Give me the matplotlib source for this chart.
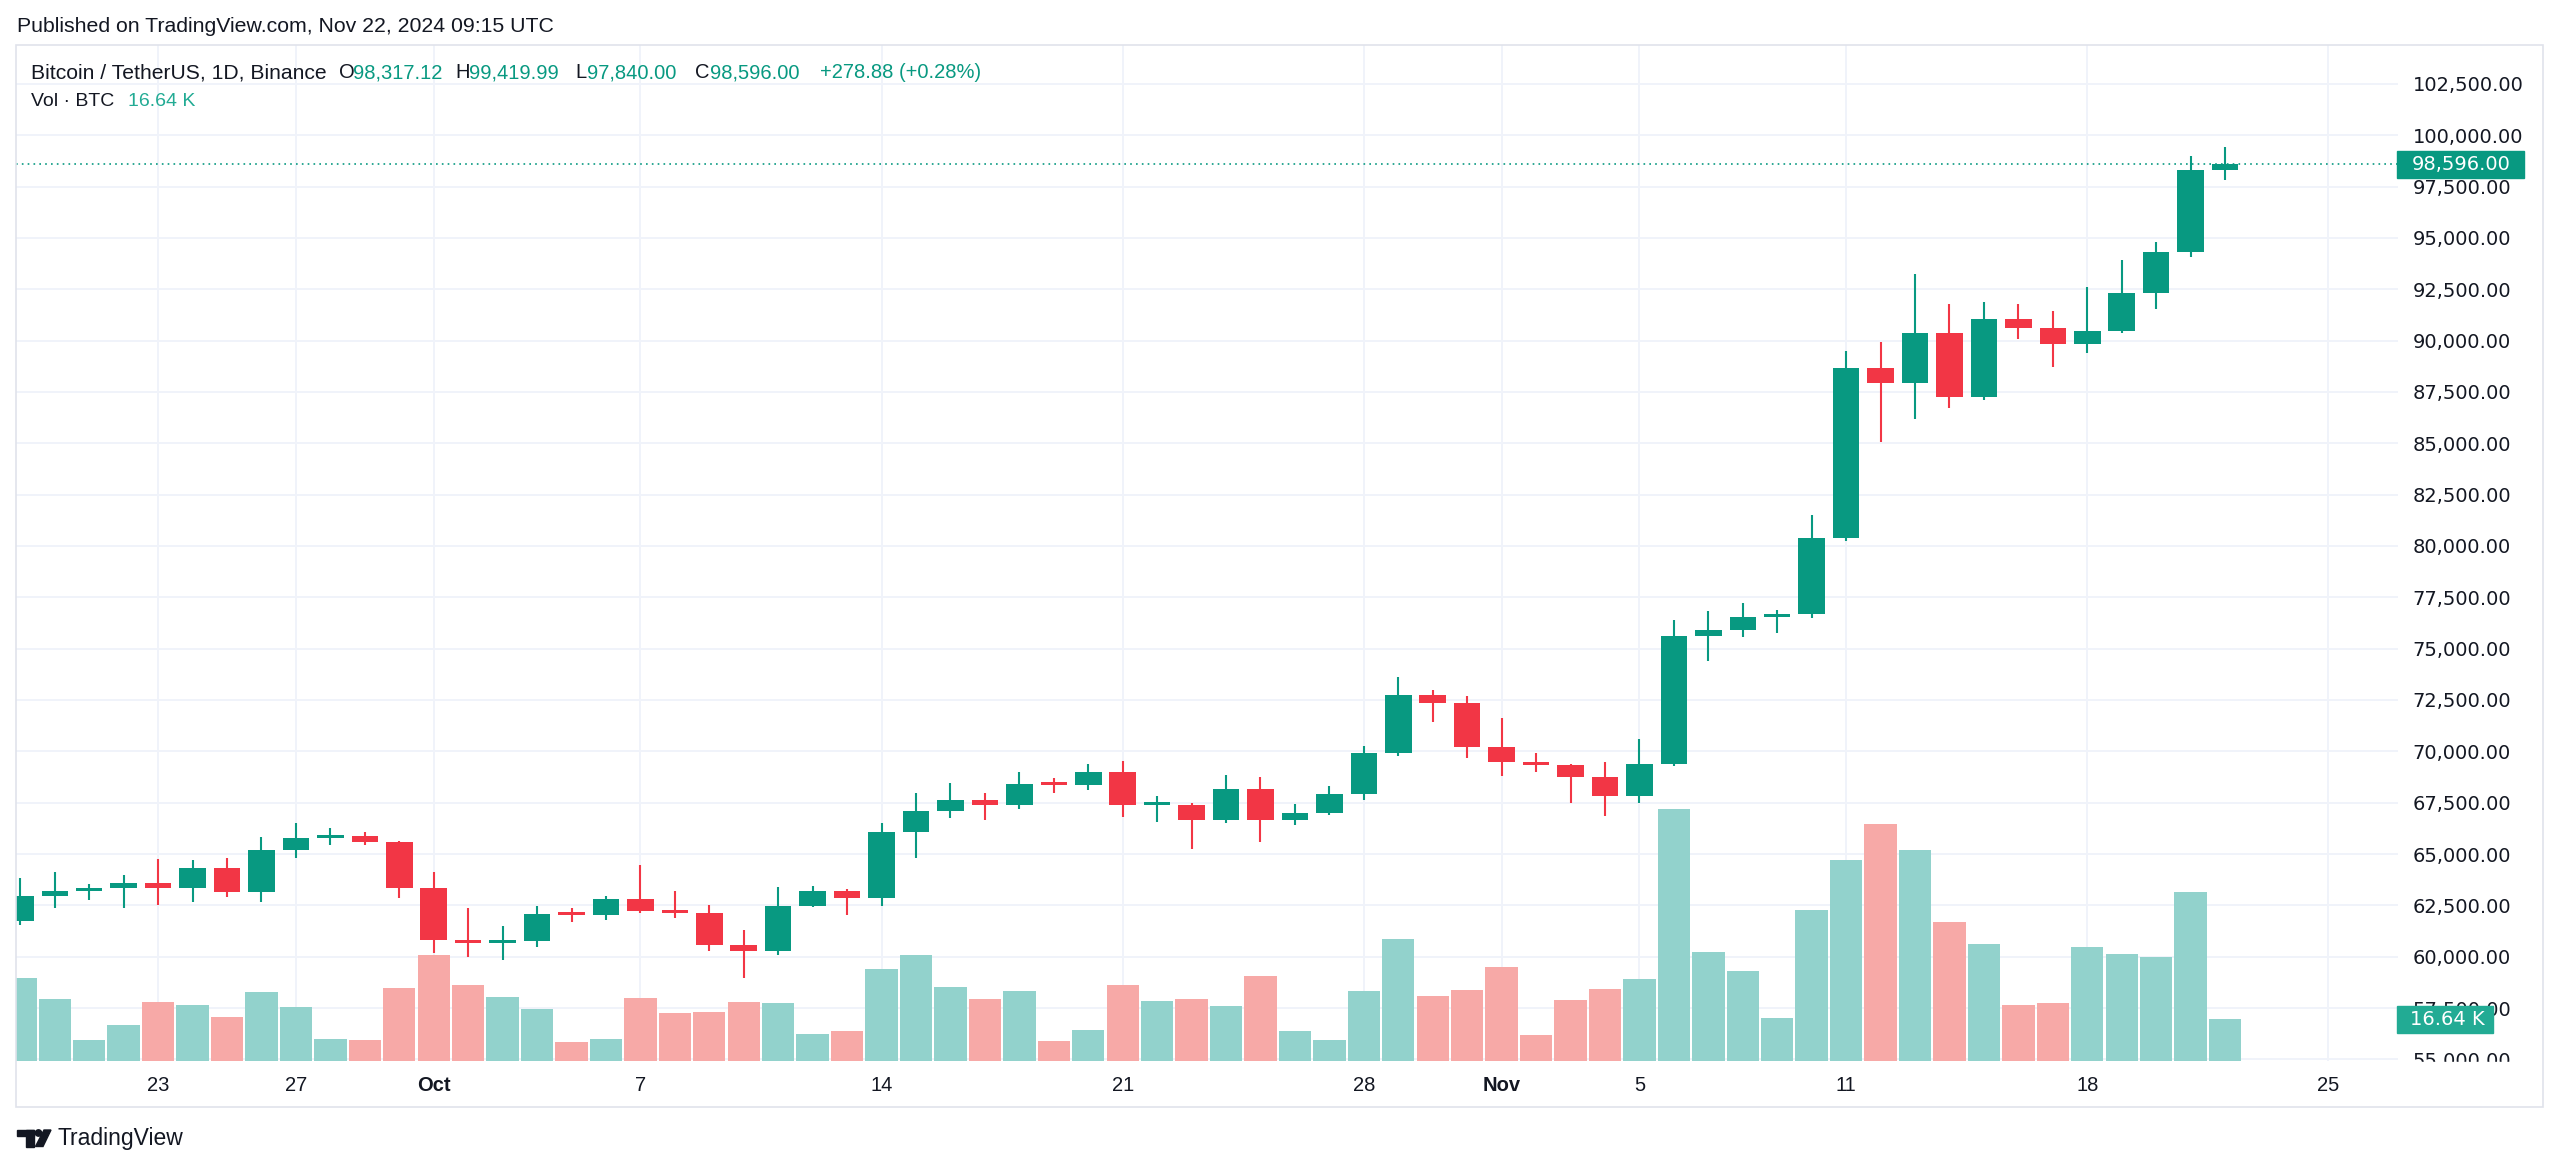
import numpy as np
import pandas as pd
import matplotlib
matplotlib.use('Agg')
import matplotlib.pyplot as plt
from matplotlib.patches import Rectangle, Circle, Polygon
from matplotlib.transforms import Affine2D, blended_transform_factory

# BTCUSDT diario, Binance (19 sep - 22 nov 2024)
dates = pd.date_range('2024-09-19', '2024-11-22', freq='D')

opens = [61760, 62940, 63190, 63350, 63580, 63330, 64300, 63140, 65180, 65770,
         65870, 65600, 63330, 60800, 60650, 60750, 62110, 62040, 62810, 62220,
         62130, 60590, 60280, 62450, 63190, 62850, 66080, 67070, 67610, 67400,
         68430, 68360, 69010, 67370, 67390, 66650, 68170, 66640, 67020, 67940,
         69910, 72720, 72340, 70220, 69500, 69340, 68760, 67810, 69360, 75640,
         75900, 76540, 76680, 80370, 88650, 87950, 90380, 87250, 91050, 90590,
         89850, 90460, 92310, 94290, 98317.12]
highs = [63850, 64130, 63520, 63980, 64740, 64710, 64810, 65840, 66520, 66250,
         66060, 65620, 64140, 62390, 61490, 62470, 62350, 62960, 64460, 63200,
         62530, 61300, 63410, 63440, 63280, 66530, 67950, 68440, 67960, 69010,
         68690, 69380, 69530, 67830, 67470, 68850, 68770, 67440, 68330, 70260,
         73640, 72990, 72700, 71610, 69900, 69370, 69500, 70580, 76400, 76810,
         77210, 76860, 81500, 89510, 89920, 93240, 91780, 91860, 91780, 91440,
         92590, 93920, 94820, 98990, 99419.99]
lows = [61560, 62350, 62760, 62350, 62520, 62680, 62920, 62680, 64820, 65440,
        65440, 62840, 60160, 60000, 59840, 60460, 61700, 61790, 62110, 61870,
        60290, 58950, 60100, 62400, 62050, 62470, 64790, 66770, 66660, 67210,
        67990, 68120, 66820, 66580, 65260, 66530, 65600, 66410, 66900, 67630,
        69770, 71450, 69690, 68820, 69010, 67500, 66850, 67470, 69300, 74420,
        75570, 75740, 76500, 80220, 85080, 86170, 86700, 87110, 90060, 88730,
        89380, 90390, 91520, 94060, 97840]
closes = [62940, 63190, 63350, 63580, 63330, 64300, 63140, 65180, 65770, 65870,
          65600, 63330, 60800, 60650, 60750, 62070, 62040, 62810, 62220, 62130,
          60590, 60280, 62450, 63190, 62850, 66080, 67070, 67610, 67400, 68430,
          68360, 69010, 67370, 67390, 66650, 68170, 66640, 67020, 67940, 69910,
          72720, 72340, 70220, 69500, 69340, 68760, 67810, 69360, 75640, 75900,
          76540, 76680, 80370, 88650, 87950, 90380, 87250, 91050, 90590, 89850,
          90460, 92310, 94290, 98317.12, 98596]
# volumen en miles de BTC
volumes = [33.2, 24.8, 8.3, 14.1, 23.7, 22.5, 17.4, 27.6, 21.4, 8.7,
           8.3, 29.2, 42.6, 30.5, 25.4, 20.8, 7.6, 8.7, 25.2, 19.2,
           19.4, 23.7, 23.2, 10.7, 11.7, 36.9, 42.6, 29.5, 24.8, 27.9,
           7.8, 12.3, 30.5, 24.1, 24.8, 22.1, 33.8, 11.7, 8.4, 28.1,
           48.9, 26.1, 28.5, 37.5, 10.3, 24.5, 28.8, 32.6, 101.2, 43.8,
           35.8, 16.9, 60.6, 80.4, 95.2, 84.8, 55.5, 46.8, 22.3, 23.3,
           45.8, 42.7, 41.6, 67.9, 16.64]

tick_dates = pd.to_datetime(['2024-09-23', '2024-09-27', '2024-10-01', '2024-10-07',
                             '2024-10-14', '2024-10-21', '2024-10-28', '2024-11-01',
                             '2024-11-05', '2024-11-11', '2024-11-18', '2024-11-25'])
tick_labels = ['23', '27', 'Oct', '7', '14', '21', '28', 'Nov', '5', '11', '18', '25']
price_ticks = np.arange(55000, 102501, 2500)

# colores
verde = '#089981'
rojo = '#F23645'
verde_vol = '#92D2CC'
rojo_vol = '#F7A9A7'
texto = '#131722'
rejilla = '#F0F3FA'

plt.rcParams['font.family'] = ['Liberation Sans', 'DejaVu Sans']

W, H = 2560, 1168
fig = plt.figure(figsize=(W / 100, H / 100), dpi=100)
px = Affine2D().scale(1 / W, -1 / H).translate(0, 1) + fig.transFigure

# área del panel en pixeles
left, right, top, bottom = 15.5, 2398, 45, 1060.5
rect = [left / W, 1 - bottom / H, (right - left) / W, (bottom - top) / H]
ax = fig.add_axes(rect)
axv = fig.add_axes(rect, sharex=ax)
axc = fig.add_axes(rect, sharex=ax, sharey=ax)
ax.set_zorder(0)
axv.set_zorder(1)
axc.set_zorder(2)
for a in (axv, axc):
    a.patch.set_visible(False)
    a.axis('off')

x = np.array((dates - dates[0]).days)
o = np.array(opens)
h = np.array(highs)
l = np.array(lows)
c = np.array(closes)
v = np.array(volumes)
sube = c >= o
sube[16] = False  # vela roja del 5 oct

# escalas
ax.set_xlim(-0.14, 69.02)
ax.set_ylim(54945, 104394)
px_por_vol = 41.4 / 16.64
axv.set_ylim(0, (bottom - top) / px_por_vol)

# rejilla y ejes
for s in ax.spines.values():
    s.set_visible(False)
ax.set_yticks(price_ticks)
ax.set_yticklabels([f'{p:,.2f}' for p in price_ticks], family='DejaVu Sans')
ax.yaxis.tick_right()
xt = np.array((tick_dates - dates[0]).days)
ax.set_xticks(xt)
ax.set_xticklabels(tick_labels)
for lbl in ax.get_xticklabels():
    if lbl.get_text() in ('Oct', 'Nov'):
        lbl.set_fontweight('bold')
ax.tick_params(axis='y', length=0, pad=10.5, labelsize=14, labelcolor=texto)
ax.tick_params(axis='x', length=0, pad=11, labelsize=14.5, labelcolor=texto)
ax.grid(True, color=rejilla, lw=1.4)

# volumen
axv.bar(x, v, width=0.94, color=np.where(sube, verde_vol, rojo_vol), zorder=2)

# velas
col = np.where(sube, verde, rojo)
axc.vlines(x, l, h, colors=col, lw=1.5, zorder=3)
cuerpo = np.maximum(np.abs(c - o), 150)
base = np.minimum(o, c)
axc.bar(x, cuerpo, bottom=base, width=0.77, color=col, zorder=4)
axc.axhline(c[-1], color=verde, lw=1.2, ls=(0, (1, 2.5)), zorder=2)

# etiquetas de precio y volumen en el eje
tr_p = blended_transform_factory(px, ax.transData)
alto_p = 27 / ((bottom - top) / (104394 - 54945))
axc.add_patch(Rectangle((2397, c[-1] - alto_p / 2), 127, alto_p, transform=tr_p,
                        color=verde, clip_on=False, zorder=10))
axc.text(2412, c[-1], f'{c[-1]:,.2f}', transform=tr_p, family='DejaVu Sans',
         fontsize=14, color='white', va='center', ha='left', zorder=11, clip_on=False)

tr_v = blended_transform_factory(px, axv.transData)
alto_v = 27 / px_por_vol
axv.add_patch(Rectangle((2397, v[-1] - alto_v / 2), 96, alto_v, transform=tr_v,
                        color='#22AB94', clip_on=False, zorder=10))
axv.text(2410, v[-1], f'{v[-1]:.2f} K', transform=tr_v, family='DejaVu Sans',
         fontsize=14, color='white', va='center', ha='left', zorder=11, clip_on=False)

# tapa la parte baja del eje de precios
fig.add_artist(Rectangle((2399, 1061.5), 140, 20, transform=px, color='white', zorder=5))

# marco
fig.add_artist(Rectangle((15.5, 45), 2527.5, 1062, transform=px, fill=False,
                         ec='#E0E3EB', lw=1.2, zorder=6))

# encabezado
fig.text(17, 27, 'Published on TradingView.com, Nov 22, 2024 09:15 UTC', transform=px,
         fontsize=15.3, color=texto, va='center')
cambio = c[-1] - c[-2]
pct = cambio / c[-2] * 100
piezas = [('Bitcoin / TetherUS, 1D, Binance', 31, texto, 15.2),
          ('O', 339, texto, 14.5), (f'{o[-1]:,.2f}', 353, verde, 14.5),
          ('H', 455, texto, 14.5), (f'{h[-1]:,.2f}', 469, verde, 14.5),
          ('L', 575, texto, 14.5), (f'{l[-1]:,.2f}', 587, verde, 14.5),
          ('C', 695, texto, 14.5), (f'{c[-1]:,.2f}', 710, verde, 14.5),
          (f'+{cambio:.2f} (+{pct:.2f}%)', 820, verde, 14.5)]
for t, xp, cc, fs in piezas:
    fig.text(xp, 73, t, transform=px, fontsize=fs, color=cc, va='center')
fig.text(31, 102, 'Vol · BTC', transform=px, fontsize=14, color=texto, va='center')
fig.text(128, 102, f'{v[-1]:.2f} K', transform=px, fontsize=14, color='#22AB94', va='center')

# logo TradingView
negro = '#131722'
fig.add_artist(Rectangle((17, 1130), 17, 5.5, transform=px, color=negro))
fig.add_artist(Rectangle((26, 1130), 8, 16.5, transform=px, color=negro))
fig.add_artist(Circle((38.5, 1133), 3.2, transform=px, color=negro))
fig.add_artist(Polygon([(44, 1130), (51, 1130), (43, 1146.5), (35.5, 1146.5)],
                       closed=True, transform=px, color=negro))
fig.text(57, 1139, 'TradingView', transform=px, fontsize=16.5, color=texto, va='center')

fig.savefig('out.png', dpi=100, facecolor='white')
